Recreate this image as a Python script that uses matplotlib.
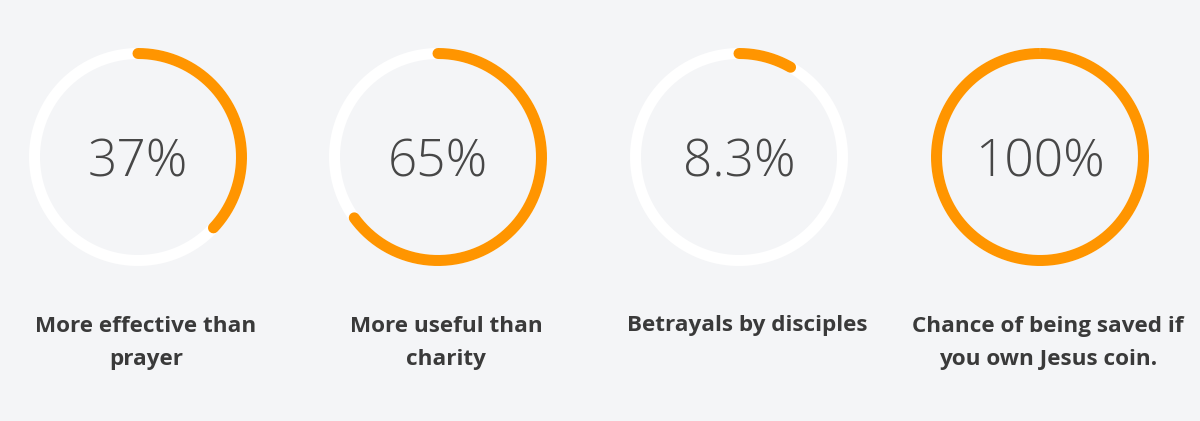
import numpy as np
import matplotlib
matplotlib.use("Agg")
import matplotlib.pyplot as plt

values = [37, 65, 8.3, 100]
value_labels = ["37%", "65%", "8.3%", "100%"]
captions = ["More effective than\nprayer", "More useful than\ncharity",
            "Betrayals by disciples", "Chance of being saved if\nyou own Jesus coin."]

W, H = 1200, 421
fig = plt.figure(figsize=(W / 100, H / 100), dpi=100)
fig.patch.set_facecolor("#f4f5f7")
ax = fig.add_axes([0, 0, 1, 1])
ax.set_xlim(0, W)
ax.set_ylim(H, 0)
ax.axis("off")

centers_x = [138, 438, 739, 1040]
cy = 157
r = 103.5
lw = 11 * 72 / 100
orange = "#ff9500"

for cx, v, vl, cap in zip(centers_x, values, value_labels, captions):
    t = np.linspace(0, 2 * np.pi, 400)
    ax.plot(cx + r * np.sin(t), cy - r * np.cos(t), color="white", lw=lw,
            solid_capstyle="butt")
    tt = np.linspace(0, 2 * np.pi * v / 100, 400)
    ax.plot(cx + r * np.sin(tt), cy - r * np.cos(tt), color=orange, lw=lw,
            solid_capstyle="round" if v < 100 else "butt")
    ax.text(cx, cy + 6, vl, ha="center", va="center", fontsize=37,
            family="Open Sans", weight="light", color="#474747")
    ax.text(cx + 8, 343 if "\n" in cap else 326, cap, ha="center", va="center",
            fontsize=16.2, family="Open Sans", weight="bold", color="#3a3a3a",
            linespacing=1.77)

fig.savefig("out.png", dpi=100, facecolor=fig.get_facecolor())
